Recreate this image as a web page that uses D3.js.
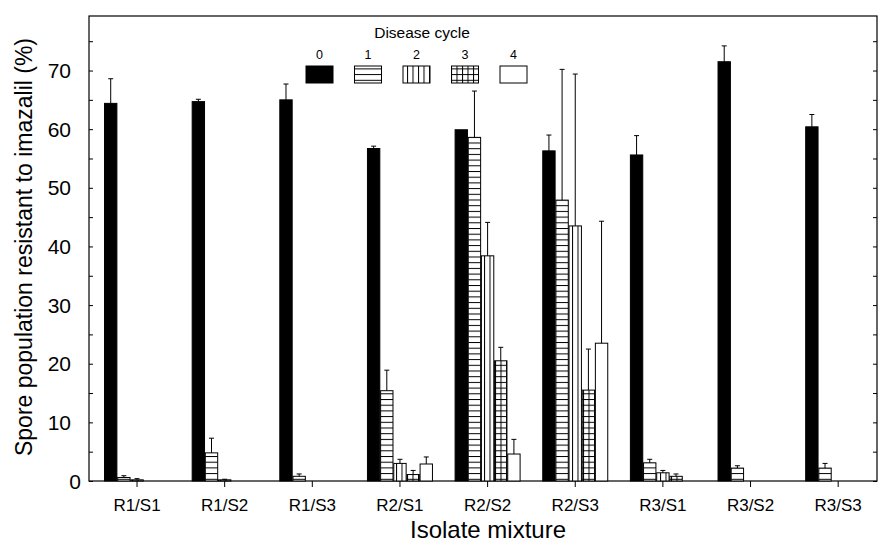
<!DOCTYPE html>
<html>
<head>
<meta charset="utf-8">
<script src="https://cdn.jsdelivr.net/npm/d3@7"></script>
<style>
  body { margin: 0; background: #fff; }
  text { font-family: "Liberation Sans", Arial, sans-serif; fill: #000; }
</style>
</head>
<body>
<div id="container"></div>
<script>
/* DATA */
const groups = ["R1/S1", "R1/S2", "R1/S3", "R2/S1", "R2/S2", "R2/S3", "R3/S1", "R3/S2", "R3/S3"];
const cycles = ["0", "1", "2", "3", "4"];

// mean % resistant, one array per disease cycle
const cycle0 = [64.4, 64.7, 65.0, 56.7, 59.9, 56.3, 55.6, 71.5, 60.4];
const cycle1 = [0.6, 4.8, 0.8, 15.4, 58.6, 47.9, 3.1, 2.2, 2.2];
const cycle2 = [0.2, 0.2, 0, 3.0, 38.4, 43.5, 1.4, 0, 0];
const cycle3 = [0, 0, 0, 1.1, 20.5, 15.5, 0.8, 0, 0];
const cycle4 = [0, 0, 0, 2.9, 4.6, 23.5, 0, 0, 0];

// upper error bar length
const err0 = [4.2, 0.4, 2.7, 0.4, 0, 2.7, 3.3, 2.7, 2.1];
const err1 = [0.3, 2.5, 0.4, 3.5, 7.9, 22.3, 0.6, 0.4, 0.8];
const err2 = [0.2, 0.1, 0, 0.7, 5.7, 25.9, 0.4, 0, 0];
const err3 = [0, 0, 0, 0.7, 2.3, 7.0, 0.4, 0, 0];
const err4 = [0, 0, 0, 1.2, 2.5, 20.8, 0, 0, 0];

const yTicks = [0, 10, 20, 30, 40, 50, 60, 70];

const means = [cycle0, cycle1, cycle2, cycle3, cycle4];
const errs = [err0, err1, err2, err3, err4];
const data = [];
groups.forEach((g, i) => {
  cycles.forEach((c, j) => {
    data.push({ group: g, cycle: c, value: means[j][i], err: errs[j][i] });
  });
});

/* CONSTANTS */
const width = 886;
const height = 555;
const plotL = 89, plotR = 877, plotT = 16, plotB = 481;

/* SCALES */
const yScale = d3.scaleLinear().domain([0, 79.3]).range([plotB, plotT]);
const xScale = d3.scaleBand().domain(groups).range([93.2, 882]);
const xInner = d3.scaleBand().domain(cycles).range([-32.5, 32.5]).paddingInner(0.06);
const fillOf = { "0": "#000", "1": "url(#hatch1)", "2": "url(#hatch2)", "3": "url(#hatch3)", "4": "#fff" };

/* SVG */
const svg = d3.select("#container")
  .append("svg")
  .attr("width", width)
  .attr("height", height);

// hatch patterns
const defs = svg.append("defs");
const p1 = defs.append("pattern").attr("id", "hatch1").attr("patternUnits", "userSpaceOnUse")
  .attr("width", 6).attr("height", 5.7);
p1.append("rect").attr("width", 6).attr("height", 5.7).attr("fill", "#fff");
p1.append("line").attr("x1", 0).attr("x2", 6).attr("y1", 0.5).attr("y2", 0.5)
  .attr("stroke", "#000").attr("stroke-width", 1);

const p2 = defs.append("pattern").attr("id", "hatch2").attr("patternUnits", "userSpaceOnUse")
  .attr("width", 5.5).attr("height", 6);
p2.append("rect").attr("width", 5.5).attr("height", 6).attr("fill", "#fff");
p2.append("line").attr("x1", 0.5).attr("x2", 0.5).attr("y1", 0).attr("y2", 6)
  .attr("stroke", "#000").attr("stroke-width", 1);

const p3 = defs.append("pattern").attr("id", "hatch3").attr("patternUnits", "userSpaceOnUse")
  .attr("width", 5.5).attr("height", 5.7);
p3.append("rect").attr("width", 5.5).attr("height", 5.7).attr("fill", "#fff");
p3.append("line").attr("x1", 0.5).attr("x2", 0.5).attr("y1", 0).attr("y2", 5.7)
  .attr("stroke", "#000").attr("stroke-width", 1);
p3.append("line").attr("x1", 0).attr("x2", 5.5).attr("y1", 0.5).attr("y2", 0.5)
  .attr("stroke", "#000").attr("stroke-width", 1);

// plot frame
svg.append("rect")
  .attr("x", plotL).attr("y", plotT)
  .attr("width", plotR - plotL).attr("height", plotB - plotT)
  .attr("fill", "none").attr("stroke", "#000").attr("stroke-width", 1.2);

// left and right axes: ticks inside every 5
const minorTicks = d3.range(0, 80, 5);
svg.append("g")
  .attr("transform", `translate(${plotL},0)`)
  .call(d3.axisRight(yScale).tickValues(minorTicks).tickSize(4).tickFormat(""))
  .call(g => g.select(".domain").remove());

svg.append("g")
  .attr("transform", `translate(${plotR},0)`)
  .call(d3.axisLeft(yScale).tickValues(minorTicks).tickSize(4).tickFormat(""))
  .call(g => g.select(".domain").remove());

// y tick labels (the zero sits closer to the axis in the original)
svg.append("g")
  .selectAll("text")
  .data(yTicks)
  .join("text")
  .attr("x", d => d === 0 ? 81 : 71)
  .attr("y", d => yScale(d) + 7.5)
  .attr("text-anchor", "end")
  .style("font-size", "21px")
  .text(d => d);

// x axis ticks below frame
svg.append("g")
  .attr("transform", `translate(0,${plotB})`)
  .call(d3.axisBottom(xScale).tickSize(6).tickFormat(""))
  .call(g => g.select(".domain").remove());

svg.append("g")
  .selectAll("text")
  .data(groups)
  .join("text")
  .attr("x", d => xScale(d) + xScale.bandwidth() / 2)
  .attr("y", 511)
  .attr("text-anchor", "middle")
  .style("font-size", "17px")
  .text(d => d);

// bars
const bars = svg.append("g");
bars.selectAll("rect")
  .data(data.filter(d => d.value > 0))
  .join("rect")
  .attr("x", d => xScale(d.group) + xScale.bandwidth() / 2 + xInner(d.cycle))
  .attr("y", d => yScale(d.value))
  .attr("width", xInner.bandwidth())
  .attr("height", d => yScale(0) - yScale(d.value))
  .attr("fill", d => fillOf[d.cycle])
  .attr("stroke", "#000")
  .attr("stroke-width", 1);

// error bars (upper only)
const errG = svg.append("g").attr("stroke", "#000").attr("stroke-width", 1);
const withErr = data.filter(d => d.err > 0);
const cx = d => xScale(d.group) + xScale.bandwidth() / 2 + xInner(d.cycle) + xInner.bandwidth() / 2;
errG.selectAll("line.v")
  .data(withErr)
  .join("line")
  .attr("class", "v")
  .attr("x1", cx).attr("x2", cx)
  .attr("y1", d => yScale(d.value))
  .attr("y2", d => yScale(d.value + d.err));
errG.selectAll("line.cap")
  .data(withErr)
  .join("line")
  .attr("class", "cap")
  .attr("x1", d => cx(d) - 2.5).attr("x2", d => cx(d) + 2.5)
  .attr("y1", d => yScale(d.value + d.err))
  .attr("y2", d => yScale(d.value + d.err));

// legend
const legendX = d3.scalePoint().domain(cycles).range([319.5, 513.5]);
const legend = svg.append("g");
legend.append("text")
  .attr("x", 422)
  .attr("y", 38)
  .attr("text-anchor", "middle")
  .style("font-size", "15.5px")
  .text("Disease cycle");
legend.selectAll("text.lab")
  .data(cycles)
  .join("text")
  .attr("class", "lab")
  .attr("x", d => legendX(d))
  .attr("y", 58.5)
  .attr("text-anchor", "middle")
  .style("font-size", "12.5px")
  .text(d => d);
legend.selectAll("rect")
  .data(cycles)
  .join("rect")
  .attr("x", d => legendX(d) - 13.5)
  .attr("y", 66)
  .attr("width", 27)
  .attr("height", 17)
  .attr("fill", d => fillOf[d])
  .attr("stroke", "#000")
  .attr("stroke-width", 1);

// axis titles
svg.append("text")
  .attr("transform", "translate(32,247) rotate(-90)")
  .attr("text-anchor", "middle")
  .style("font-size", "23px")
  .text("Spore population resistant to imazalil (%)");

svg.append("text")
  .attr("x", 488)
  .attr("y", 538)
  .attr("text-anchor", "middle")
  .style("font-size", "24px")
  .text("Isolate mixture");
</script>
</body>
</html>
